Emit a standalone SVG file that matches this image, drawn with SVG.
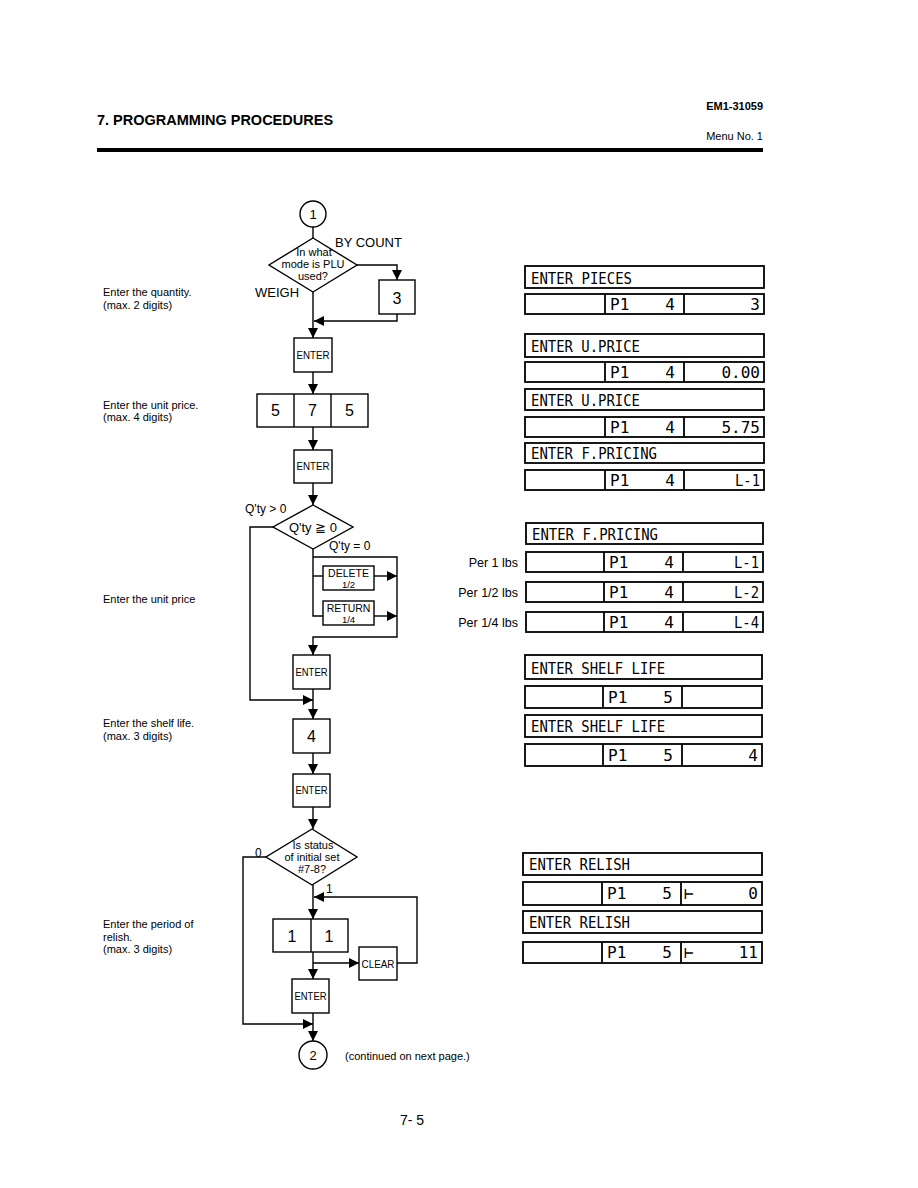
<svg xmlns="http://www.w3.org/2000/svg" width="918" height="1188" viewBox="0 0 918 1188">
<defs>
<marker id="ah" markerUnits="userSpaceOnUse" markerWidth="10" markerHeight="10" viewBox="0 0 10 10" refX="10" refY="5" orient="auto">
<path d="M0,0 L10,5 L0,10 Z" fill="#000"/>
</marker>
</defs>
<style>
.s{font-family:"Liberation Sans",Arial,sans-serif;fill:#000}
.b{fill:#fff;stroke:#000;stroke-width:1.4}
.c{fill:none;stroke:#000;stroke-width:1.4}
.d{fill:#fff;stroke:#000;stroke-width:1.8}
.m{font-family:"DejaVu Sans Mono","Liberation Mono",monospace;font-size:16px;fill:#000}
.e{font-family:"Liberation Sans",Arial,sans-serif;font-size:10.5px;text-anchor:middle}
.dg{font-family:"Liberation Sans",Arial,sans-serif;font-size:16px;text-anchor:middle}
.n{font-family:"Liberation Sans",Arial,sans-serif;font-size:11px;fill:#000}
</style>
<rect width="918" height="1188" fill="#fff"/>
<g id="header">
<text class="s" x="97" y="125" font-size="14.5" font-weight="bold">7. PROGRAMMING PROCEDURES</text>
<text class="s" x="763" y="110" font-size="11" font-weight="bold" text-anchor="end">EM1-31059</text>
<text class="s" x="763" y="140" font-size="11" text-anchor="end">Menu No. 1</text>
<rect x="97" y="148" width="666" height="4" fill="#000"/>
</g>
<g id="notes">
<text class="n" x="103" y="296">Enter the quantity.</text>
<text class="n" x="103" y="309">(max. 2 digits)</text>
<text class="n" x="103" y="409">Enter the unit price.</text>
<text class="n" x="103" y="421">(max. 4 digits)</text>
<text class="n" x="103" y="603">Enter the unit price</text>
<text class="n" x="103" y="727">Enter the shelf life.</text>
<text class="n" x="103" y="740">(max. 3 digits)</text>
<text class="n" x="103" y="928">Enter the period of</text>
<text class="n" x="103" y="941">relish.</text>
<text class="n" x="103" y="953">(max. 3 digits)</text>
</g>
<g id="connectors" class="c">
<path d="M313,227 V238"/>
<path d="M313,292 V338" marker-end="url(#ah)"/>
<path d="M357,265 H397 V280" marker-end="url(#ah)"/>
<path d="M397,314 V321 H314" marker-end="url(#ah)"/>
<path d="M313,372 V394" marker-end="url(#ah)"/>
<path d="M313,427 V450" marker-end="url(#ah)"/>
<path d="M313,483 V505" marker-end="url(#ah)"/>
<path d="M273,527 H250 V700 H313" marker-end="url(#ah)"/>
<path d="M313,549 V616 H323"/>
<path d="M313,576 H323"/>
<path d="M313,557 H397 V637 H313 V655" marker-end="url(#ah)"/>
<path d="M374,576 H397" marker-end="url(#ah)"/>
<path d="M374,616 H397" marker-end="url(#ah)"/>
<path d="M313,689 V719" marker-end="url(#ah)"/>
<path d="M313,753 V774" marker-end="url(#ah)"/>
<path d="M313,807 V829" marker-end="url(#ah)"/>
<path d="M266,857 H243 V1024 H313" marker-end="url(#ah)"/>
<path d="M313,885 V919" marker-end="url(#ah)"/>
<path d="M313,952 V979" marker-end="url(#ah)"/>
<path d="M313,963 H359" marker-end="url(#ah)"/>
<path d="M397,963 H417 V897 H314" marker-end="url(#ah)"/>
<path d="M313,1013 V1041" marker-end="url(#ah)"/>
</g>
<g id="start">
<circle class="b" cx="313" cy="214" r="13"/>
<text class="s" x="313" y="219" font-size="13" text-anchor="middle">1</text>
</g>
<g id="mode-decision">
<polygon class="b" points="313,238 357,265 313,292 269,265"/>
<text class="s" x="314" y="256" font-size="11" text-anchor="middle">In what</text>
<text class="s" x="313" y="268" font-size="11" text-anchor="middle">mode is PLU</text>
<text class="s" x="313" y="280" font-size="11" text-anchor="middle">used?</text>
<text class="s" x="335" y="247" font-size="13">BY COUNT</text>
<text class="s" x="255" y="297" font-size="13">WEIGH</text>
</g>
<g id="key-3">
<rect class="b" x="379" y="280" width="36" height="34"/>
<text class="dg" x="397" y="304">3</text>
</g>
<g id="enter-1">
<rect class="b" x="294" y="338" width="38" height="34"/>
<text class="e" x="313" y="359" textLength="33" lengthAdjust="spacingAndGlyphs">ENTER</text>
</g>
<g id="key-575">
<rect class="b" x="257" y="394" width="111" height="33"/>
<line class="c" x1="294" y1="394" x2="294" y2="427"/>
<line class="c" x1="331" y1="394" x2="331" y2="427"/>
<text class="dg" x="275.5" y="416">5</text>
<text class="dg" x="312.5" y="416">7</text>
<text class="dg" x="349.5" y="416">5</text>
</g>
<g id="enter-2">
<rect class="b" x="294" y="450" width="38" height="33"/>
<text class="e" x="313" y="470" textLength="33" lengthAdjust="spacingAndGlyphs">ENTER</text>
</g>
<g id="qty-decision">
<polygon class="b" points="313,505 353,527 313,549 273,527"/>
<text class="s" x="313" y="532" font-size="13" text-anchor="middle">Q'ty ≧ 0</text>
<text class="s" x="245" y="513" font-size="12">Q'ty &gt; 0</text>
<text class="s" x="329" y="550" font-size="12">Q'ty = 0</text>
</g>
<g id="delete">
<rect class="b" x="323" y="566" width="51" height="24"/>
<text class="s" x="348.5" y="577" font-size="10.5" text-anchor="middle">DELETE</text>
<text class="s" x="348.5" y="588" font-size="9.5" text-anchor="middle">1/2</text>
</g>
<g id="return">
<rect class="b" x="323" y="601" width="51" height="24"/>
<text class="s" x="348.5" y="612" font-size="10.5" text-anchor="middle">RETURN</text>
<text class="s" x="348.5" y="623" font-size="9.5" text-anchor="middle">1/4</text>
</g>
<g id="enter-3">
<rect class="b" x="293" y="655" width="37" height="34"/>
<text class="e" x="311.5" y="676" textLength="32" lengthAdjust="spacingAndGlyphs">ENTER</text>
</g>
<g id="key-4">
<rect class="b" x="293" y="719" width="37" height="34"/>
<text class="dg" x="311.5" y="742">4</text>
</g>
<g id="enter-4">
<rect class="b" x="293" y="774" width="37" height="33"/>
<text class="e" x="311.5" y="794" textLength="32" lengthAdjust="spacingAndGlyphs">ENTER</text>
</g>
<g id="status-decision">
<polygon class="b" points="312,829 357,857 312,885 266,857"/>
<text class="s" x="313" y="849" font-size="11" text-anchor="middle">Is status</text>
<text class="s" x="312" y="861" font-size="11" text-anchor="middle">of initial set</text>
<text class="s" x="312" y="873" font-size="11" text-anchor="middle">#7-8?</text>
<text class="s" x="255" y="857" font-size="12">0</text>
<text class="s" x="326" y="893" font-size="12">1</text>
</g>
<g id="key-11">
<rect class="b" x="273" y="919" width="75" height="33"/>
<line class="c" x1="311" y1="919" x2="311" y2="952"/>
<text class="dg" x="292" y="942">1</text>
<text class="dg" x="329" y="942">1</text>
</g>
<g id="clear">
<rect class="b" x="359" y="947" width="38" height="33"/>
<text class="e" x="378" y="968" textLength="33" lengthAdjust="spacingAndGlyphs">CLEAR</text>
</g>
<g id="enter-5">
<rect class="b" x="292" y="979" width="37" height="34"/>
<text class="e" x="310.5" y="1000" textLength="32" lengthAdjust="spacingAndGlyphs">ENTER</text>
</g>
<g id="end">
<circle class="b" cx="313" cy="1055" r="14"/>
<text class="s" x="313" y="1060" font-size="13" text-anchor="middle">2</text>
<text class="s" x="345" y="1060" font-size="11">(continued on next page.)</text>
</g>
<g id="display-pieces">
<rect class="d" x="525" y="266" width="239" height="22"/>
<text class="m" x="531" y="284" textLength="101" lengthAdjust="spacingAndGlyphs">ENTER PIECES</text>
<rect class="d" x="525" y="294" width="239" height="20"/>
<line class="d" x1="605" y1="294" x2="605" y2="314"/><line class="d" x1="684" y1="294" x2="684" y2="314"/>
<text class="m" x="610" y="310">P1</text><text class="m" x="675" y="310" text-anchor="end">4</text><text class="m" x="760" y="310" text-anchor="end">3</text>
</g>
<g id="display-uprice-1">
<rect class="d" x="525" y="334" width="239" height="23"/>
<text class="m" x="531" y="352" textLength="109" lengthAdjust="spacingAndGlyphs">ENTER U.PRICE</text>
<rect class="d" x="525" y="362" width="239" height="20"/>
<line class="d" x1="605" y1="362" x2="605" y2="382"/><line class="d" x1="684" y1="362" x2="684" y2="382"/>
<text class="m" x="610" y="378">P1</text><text class="m" x="675" y="378" text-anchor="end">4</text><text class="m" x="760" y="378" text-anchor="end">0.00</text>
</g>
<g id="display-uprice-2">
<rect class="d" x="525" y="389" width="239" height="21"/>
<text class="m" x="531" y="406" textLength="109" lengthAdjust="spacingAndGlyphs">ENTER U.PRICE</text>
<rect class="d" x="525" y="417" width="239" height="20"/>
<line class="d" x1="605" y1="417" x2="605" y2="437"/><line class="d" x1="684" y1="417" x2="684" y2="437"/>
<text class="m" x="610" y="433">P1</text><text class="m" x="675" y="433" text-anchor="end">4</text><text class="m" x="760" y="433" text-anchor="end">5.75</text>
</g>
<g id="display-fpricing-1">
<rect class="d" x="525" y="443" width="239" height="20"/>
<text class="m" x="531" y="459" textLength="126" lengthAdjust="spacingAndGlyphs">ENTER F.PRICING</text>
<rect class="d" x="525" y="470" width="239" height="20"/>
<line class="d" x1="605" y1="470" x2="605" y2="490"/><line class="d" x1="684" y1="470" x2="684" y2="490"/>
<text class="m" x="610" y="486">P1</text><text class="m" x="675" y="486" text-anchor="end">4</text><text class="m" x="760" y="486" text-anchor="end" textLength="25" lengthAdjust="spacingAndGlyphs">L-1</text>
</g>
<g id="display-fpricing-2">
<rect class="d" x="526" y="523" width="237" height="21"/>
<text class="m" x="532" y="540" textLength="126" lengthAdjust="spacingAndGlyphs">ENTER F.PRICING</text>
<rect class="d" x="526" y="552" width="237" height="20"/>
<line class="d" x1="604" y1="552" x2="604" y2="572"/><line class="d" x1="683" y1="552" x2="683" y2="572"/>
<text class="m" x="609" y="568">P1</text><text class="m" x="674" y="568" text-anchor="end">4</text><text class="m" x="759" y="568" text-anchor="end" textLength="25" lengthAdjust="spacingAndGlyphs">L-1</text>
<rect class="d" x="526" y="582" width="237" height="20"/>
<line class="d" x1="604" y1="582" x2="604" y2="602"/><line class="d" x1="683" y1="582" x2="683" y2="602"/>
<text class="m" x="609" y="598">P1</text><text class="m" x="674" y="598" text-anchor="end">4</text><text class="m" x="759" y="598" text-anchor="end" textLength="25" lengthAdjust="spacingAndGlyphs">L-2</text>
<rect class="d" x="526" y="612" width="237" height="20"/>
<line class="d" x1="604" y1="612" x2="604" y2="632"/><line class="d" x1="683" y1="612" x2="683" y2="632"/>
<text class="m" x="609" y="628">P1</text><text class="m" x="674" y="628" text-anchor="end">4</text><text class="m" x="759" y="628" text-anchor="end" textLength="25" lengthAdjust="spacingAndGlyphs">L-4</text>
<text class="s" x="518" y="567" font-size="12.5" text-anchor="end">Per 1 lbs</text>
<text class="s" x="518" y="597" font-size="12.5" text-anchor="end">Per 1/2 lbs</text>
<text class="s" x="518" y="627" font-size="12.5" text-anchor="end">Per 1/4 lbs</text>
</g>
<g id="display-shelf-1">
<rect class="d" x="525" y="655" width="237" height="24"/>
<text class="m" x="531" y="674" textLength="134" lengthAdjust="spacingAndGlyphs">ENTER SHELF LIFE</text>
<rect class="d" x="525" y="686" width="237" height="22"/>
<line class="d" x1="603" y1="686" x2="603" y2="708"/><line class="d" x1="682" y1="686" x2="682" y2="708"/>
<text class="m" x="608" y="703">P1</text><text class="m" x="673" y="703" text-anchor="end">5</text>
</g>
<g id="display-shelf-2">
<rect class="d" x="525" y="715" width="237" height="22"/>
<text class="m" x="531" y="732" textLength="134" lengthAdjust="spacingAndGlyphs">ENTER SHELF LIFE</text>
<rect class="d" x="525" y="744" width="237" height="22"/>
<line class="d" x1="603" y1="744" x2="603" y2="766"/><line class="d" x1="682" y1="744" x2="682" y2="766"/>
<text class="m" x="608" y="761">P1</text><text class="m" x="673" y="761" text-anchor="end">5</text><text class="m" x="758" y="761" text-anchor="end">4</text>
</g>
<g id="display-relish-1">
<rect class="d" x="523" y="853" width="239" height="22"/>
<text class="m" x="529" y="870" textLength="101" lengthAdjust="spacingAndGlyphs">ENTER RELISH</text>
<rect class="d" x="523" y="882" width="239" height="23"/>
<line class="d" x1="602" y1="882" x2="602" y2="905"/><line class="d" x1="681" y1="882" x2="681" y2="905"/>
<text class="m" x="607" y="899">P1</text><text class="m" x="672" y="899" text-anchor="end">5</text><text class="m" x="684" y="899">⊢</text><text class="m" x="758" y="899" text-anchor="end">0</text>
</g>
<g id="display-relish-2">
<rect class="d" x="523" y="911" width="239" height="22"/>
<text class="m" x="529" y="928" textLength="101" lengthAdjust="spacingAndGlyphs">ENTER RELISH</text>
<rect class="d" x="523" y="942" width="239" height="21"/>
<line class="d" x1="602" y1="942" x2="602" y2="963"/><line class="d" x1="681" y1="942" x2="681" y2="963"/>
<text class="m" x="607" y="958">P1</text><text class="m" x="672" y="958" text-anchor="end">5</text><text class="m" x="684" y="958">⊢</text><text class="m" x="758" y="958" text-anchor="end">11</text>
</g>
<g id="footer">
<text class="s" x="412" y="1125" font-size="14" text-anchor="middle">7- 5</text>
</g>
</svg>
